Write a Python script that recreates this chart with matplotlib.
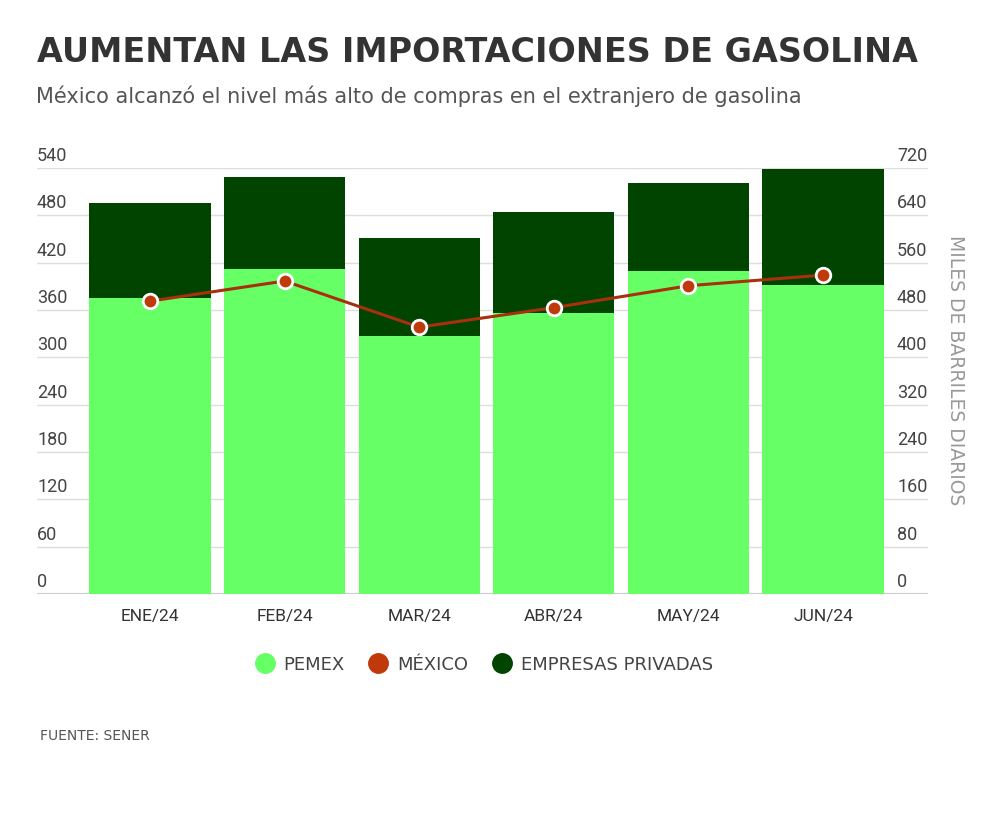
import matplotlib.pyplot as plt
from matplotlib.lines import Line2D
import numpy as np

meses = ["ENE/24", "FEB/24", "MAR/24", "ABR/24", "MAY/24", "JUN/24"]
pemex = [375, 412, 327, 356, 410, 392]
privadas = [120, 117, 124, 128, 111, 147]
mexico = [495, 529, 451, 484, 521, 539]

izq_ticks = [0, 60, 120, 180, 240, 300, 360, 420, 480, 540]
der_ticks = [0, 80, 160, 240, 320, 400, 480, 560, 640, 720]

c_pemex = "#66ff66"
c_priv = "#004400"
c_linea = "#a8300c"
c_punto = "#c0390b"

plt.rcParams['font.family'] = ['Roboto', 'DejaVu Sans']

fig = plt.figure(figsize=(10, 8.37), dpi=100)
W, H = 1000, 837
ax = fig.add_axes([37 / W, 1 - 595 / H, (928 - 37) / W, (595 - 169) / H])

x = np.arange(len(meses))
ax.bar(x, pemex, width=0.9, color=c_pemex, zorder=2)
ax.bar(x, privadas, bottom=pemex, width=0.9, color=c_priv, zorder=2)

ax.set_xlim(-0.84, 5.78)
ax.set_ylim(0, 540)
ax.set_yticks(izq_ticks)
ax.set_yticklabels([])
ax.grid(axis='y', color='#dddddd', linewidth=1, zorder=0)
ax.set_axisbelow(True)
for s in ax.spines.values():
    s.set_visible(False)
ax.axhline(0, color='#cccccc', linewidth=1.5, zorder=1)
ax.tick_params(axis='both', length=0)
ax.set_xticks(x)
ax.set_xticklabels(meses, fontsize=12.5, color='#333333')
ax.tick_params(axis='x', pad=10)

# etiquetas de eje sobre las líneas de la rejilla
for t in izq_ticks:
    ax.text(-0.84, t + 5, str(t), fontsize=13, color='#444444', ha='left', va='bottom')

ax2 = ax.twinx()
ax2.set_ylim(0, 720)
ax2.set_yticks([])
for s in ax2.spines.values():
    s.set_visible(False)
ax2.plot(x, mexico, color=c_linea, linewidth=2.2, zorder=3)
ax2.scatter(x, mexico, s=110, color=c_punto, edgecolor='white', linewidth=2, zorder=4)
for t in der_ticks:
    ax2.text(5.55, t + 6.5, str(t), fontsize=13, color='#444444', ha='left', va='bottom')

fig.text(956 / W, 1 - 370 / H, "MILES DE BARRILES DIARIOS", rotation=270, fontsize=13.5,
         color='#999999', ha='center', va='center', family='DejaVu Sans')

fig.text(37 / W, 1 - 52 / H, "AUMENTAN LAS IMPORTACIONES DE GASOLINA", fontsize=24,
         fontweight='heavy', color='#333333', ha='left', va='center', family='DejaVu Sans')
fig.text(36 / W, 1 - 96 / H, "México alcanzó el nivel más alto de compras en el extranjero de gasolina",
         fontsize=15, color='#555555', ha='left', va='center', family='DejaVu Sans')

handles = [
    Line2D([], [], marker='o', linestyle='none', markersize=14, color=c_pemex, label='PEMEX'),
    Line2D([], [], marker='o', linestyle='none', markersize=14, color=c_punto, label='MÉXICO'),
    Line2D([], [], marker='o', linestyle='none', markersize=14, color=c_priv, label='EMPRESAS PRIVADAS'),
]
fig.legend(handles=handles, loc='center', bbox_to_anchor=(482 / W, 1 - 665 / H), ncol=3,
           frameon=False, handletextpad=0.3, columnspacing=1.1, handlelength=1.5,
           prop={'family': 'DejaVu Sans', 'size': 13}, labelcolor='#444444')

fig.text(40 / W, 1 - 736 / H, "FUENTE: SENER", fontsize=10, color='#555555', ha='left', va='center',
         family='DejaVu Sans')

fig.savefig("out.png", dpi=100, facecolor='white')
